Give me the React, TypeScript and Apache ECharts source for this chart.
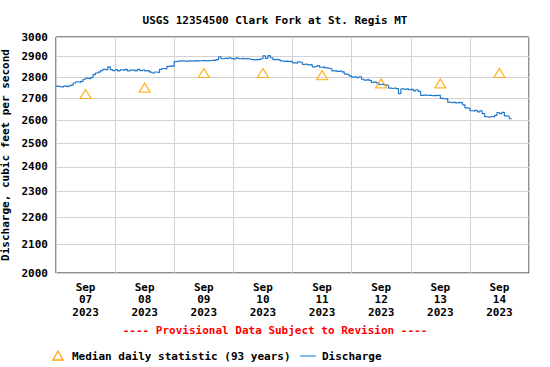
import React, { useEffect, useRef } from "react";
import * as echarts from "echarts";

const dayLabels = ["07", "08", "09", "10", "11", "12", "13", "14"];
const yTicks = [2000, 2100, 2200, 2300, 2400, 2500, 2600, 2700, 2800, 2900, 3000];
// Median daily statistic, at noon of each day
const medianValues = [2720, 2750, 2820, 2820, 2810, 2770, 2770, 2820];
// Discharge, hourly from Sep 07 00:00
const discharge = [
  2757, 2755, 2752, 2757, 2754, 2758, 2762,
  2772, 2778, 2775, 2780,
  2790, 2795, 2792, 2798,
  2812, 2820, 2824,
  2832, 2838, 2835, 2850, 2836,
  2832, 2836, 2830, 2835, 2832, 2838, 2830, 2834, 2836, 2830, 2838, 2832, 2835, 2830, 2832,
  2824, 2820, 2825, 2822,
  2838, 2842, 2840,
  2852, 2855, 2853,
  2876, 2879, 2878, 2880, 2877, 2879, 2880, 2878, 2881, 2879, 2880, 2882, 2879, 2881, 2880, 2883, 2881, 2886,
  2900, 2890, 2893, 2890, 2895, 2891, 2888, 2894, 2890, 2892, 2889, 2891, 2888,
  2886, 2884, 2887, 2885,
  2890, 2905, 2892, 2906, 2895, 2886, 2887, 2885,
  2879, 2877, 2878, 2876, 2878,
  2870, 2868,
  2874, 2872,
  2862, 2864, 2860, 2862,
  2850, 2852, 2856, 2848, 2850,
  2845, 2843, 2840,
  2830, 2832, 2828, 2830, 2826,
  2815, 2812, 2806, 2800, 2803, 2798, 2802, 2790, 2786, 2789, 2785, 2775, 2777, 2773,
  2765, 2767, 2763, 2760, 2748, 2746, 2749, 2745, 2722, 2744, 2742, 2745, 2741, 2743,
  2735, 2740, 2732, 2714, 2716, 2713, 2715, 2712, 2714, 2713, 2715, 2700, 2697, 2699,
  2682, 2680, 2683, 2679, 2681, 2680, 2670, 2656, 2654, 2643, 2641, 2645, 2638, 2642,
  2630, 2616, 2614, 2617, 2615, 2622, 2635, 2630, 2636, 2620, 2618, 2607, 2604,
];

const FONT = "DejaVu Sans Mono";
const lg = (v: number) => Math.log10(v);

export default function App() {
  const ref = useRef<HTMLDivElement>(null);
  useEffect(() => {
    if (!ref.current) return;
    const chart = echarts.init(ref.current, null, { renderer: "svg" });
    const textBase = { fontFamily: FONT, fontWeight: "bold" as const, fontSize: 11, color: "#000" };
    chart.setOption({
      animation: false,
      backgroundColor: "#fff",
      title: {
        text: "USGS 12354500 Clark Fork at St. Regis MT",
        left: "center",
        top: 10,
        textStyle: { ...textBase },
      },
      grid: {
        left: 56,
        right: 21,
        top: 37,
        bottom: 94,
        show: true,
        borderColor: "#222",
        borderWidth: 1,
        backgroundColor: "transparent",
        outerBoundsMode: "none",
        containLabel: false,
      },
      xAxis: {
        type: "value",
        min: 0,
        max: 192,
        axisLine: { show: false },
        axisTick: { show: false, customValues: dayLabels.map((_, i) => i * 24).concat([192]) },
        axisLabel: {
          customValues: dayLabels.map((_, i) => i * 24 + 12),
          formatter: (v: number) => `Sep\n${dayLabels[Math.round((v - 12) / 24)]}\n2023`,
          ...textBase,
          lineHeight: 12.5,
          margin: 8,
        },
        splitLine: { show: true, lineStyle: { color: "#d2d2d2", width: 1 } },
      },
      yAxis: {
        type: "value",
        min: lg(2000),
        max: lg(3000),
        name: "Discharge, cubic feet per second",
        nameLocation: "middle",
        nameRotate: 90,
        nameGap: 39,
        nameTextStyle: { ...textBase },
        axisLine: { show: false },
        axisTick: { show: false, customValues: yTicks.map(lg) },
        axisLabel: {
          customValues: yTicks.map(lg),
          formatter: (v: number) => String(Math.round(Math.pow(10, v))),
          ...textBase,
          margin: 8,
        },
        splitLine: { show: true, lineStyle: { color: "#d2d2d2", width: 1 } },
      },
      series: [
        {
          type: "line",
          data: discharge.map((v, i) => [i, lg(v)]),
          showSymbol: false,
          step: "end",
          lineStyle: { color: "#1f78cc", width: 1.2 },
          z: 3,
        },
        {
          type: "scatter",
          data: medianValues.map((v, i) => [i * 24 + 12, lg(v)]),
          symbol: "triangle",
          symbolSize: [11, 9],
          itemStyle: { color: "rgba(0,0,0,0)", borderColor: "#ffa500", borderWidth: 1.3 },
          z: 4,
        },
      ],
      graphic: [
        {
          type: "text",
          left: "center",
          top: 325,
          style: {
            text: "---- Provisional Data Subject to Revision ----",
            fill: "#ff0000",
            font: `bold 11px "${FONT}"`,
          },
        },
        {
          type: "polygon",
          shape: { points: [[58, 351], [53, 360], [63, 360]] },
          style: { fill: "none", stroke: "#ffa500", lineWidth: 1.3 },
        },
        {
          type: "text",
          x: 72,
          y: 356,
          style: {
            text: "Median daily statistic (93 years)",
            fill: "#000",
            font: `bold 11px "${FONT}"`,
            textVerticalAlign: "middle",
          },
        },
        {
          type: "line",
          shape: { x1: 300, y1: 356, x2: 316, y2: 356 },
          style: { stroke: "#5aa8e6", lineWidth: 1.5 },
        },
        {
          type: "text",
          x: 322,
          y: 356,
          style: {
            text: "Discharge",
            fill: "#000",
            font: `bold 11px "${FONT}"`,
            textVerticalAlign: "middle",
          },
        },
      ],
    });
    return () => chart.dispose();
  }, []);
  return <div ref={ref} style={{ position: "fixed", left: 0, top: 0, width: 550, height: 367 }} />;
}
